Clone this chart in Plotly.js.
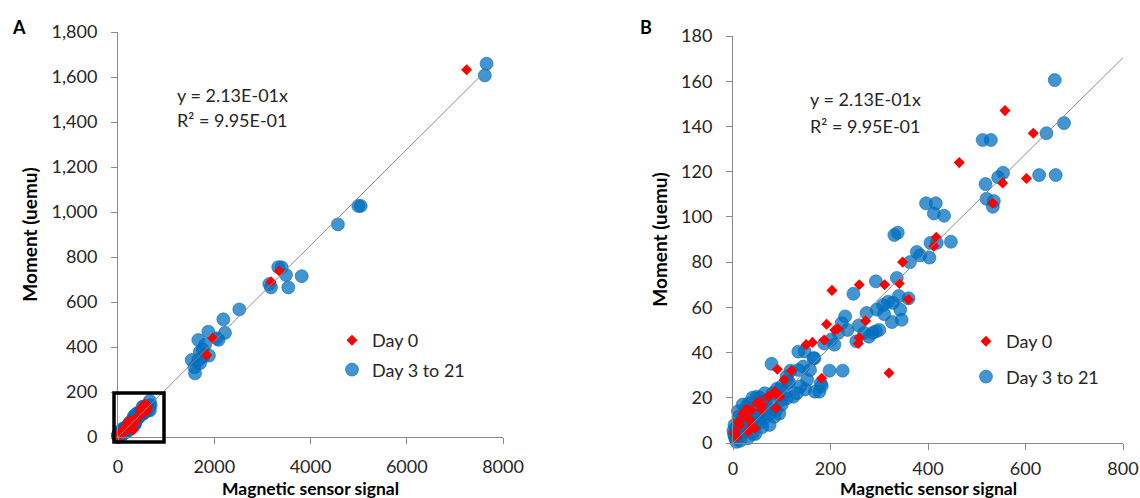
<!DOCTYPE html>
<html>
<head>
<meta charset="utf-8">
<script src="https://cdn.plot.ly/plotly-3.0.1.min.js"></script>
<style>
html,body{margin:0;padding:0;background:#fff;}
#chart{width:1140px;height:498px;}
</style>
</head>
<body>
<div id="chart"></div>
<script>
// ---------- data ----------
const seriesNames = ['Day 0', 'Day 3 to 21'];

const day0X = [
  7244, 3352, 3179, 1968, 1843, 558, 616, 464, 602, 553,
  533, 417, 412, 348, 311, 341, 259, 203, 360, 272,
  192, 209, 215, 257, 259, 187, 163, 150, 320, 182,
  91, 120, 105, 86, 96, 88, 55, 38, 23, 14,
  35, 45, 4, 11, 25, 49, 59, 72, 83, 2,
  8, 31, 38, 20, 28, 60
];
const day0Y = [
  1632, 738, 690, 439, 364, 147, 137, 124, 117, 115,
  106, 91, 87, 80, 70, 70.5, 70, 67.5, 63.5, 54,
  52.5, 50, 50.5, 44, 46.5, 45.5, 44.5, 43.5, 31, 28.6,
  32.6, 32, 28, 22.7, 20.5, 15.4, 18.3, 14.6, 12.4, 8,
  10.2, 6.5, 5, 9.4, 11.6, 17.6, 14.6, 20.5, 22, 4.3,
  2.8, 5, 7.2, 13, 15, 17
];

const laterX = [
  7659, 7622, 5044, 4993, 4570, 3401, 3491, 3817, 3539, 3144,
  3179, 3330, 2521, 2189, 2223, 2051, 2090, 1877, 1669, 1760,
  1700, 1890, 1810, 1531, 1669, 1600, 1590, 1704, 1773,
  660, 679, 643, 512, 529, 628, 662, 554, 544, 518,
  520, 535, 533, 396, 416, 412, 433, 331, 338, 447,
  405, 418, 377, 384, 403, 363, 336, 293, 247, 360,
  318, 328, 308, 295, 343, 274, 346, 326, 230, 223,
  269, 286, 293, 253, 279, 216, 187, 208, 201, 147,
  167, 134, 118, 79, 110, 148, 177, 198, 225, 180,
  124, 152, 138, 113, 95, 81, 99, 85, 67, 53,
  60, 46, 32, 25, 11, 7, 4, 7, 18, 39,
  60, 81, 49, 67, 88, 95, 110, 131, 134, 165,
  144, 158, 168, 182, 5, 12, 15, 22, 30, 35,
  28, 45, 50, 55, 65, 70, 75, 2, 10, 20,
  40, 55, 65, 90, 100, 105, 115, 100, 75, 40,
  30, 15, 3, 20, 1, 235, 258, 300, 310, 340
];
const laterY = [
  1659, 1607, 1027, 1027, 945, 754, 720, 715, 665, 680,
  665, 755, 567, 523, 463, 439, 432, 468, 431, 390,
  378, 362, 410, 342, 342, 283, 310, 328, 357,
  160.5, 141.5, 137, 134, 134, 118.5, 118.5, 119.5, 117.5, 114.5,
  108, 107, 104.5, 106, 106, 101.5, 100.5, 92, 93, 89,
  88.5, 88.5, 84.5, 83, 82, 80, 73, 71.5, 66, 64,
  62.5, 62, 61, 59, 59, 57.5, 54.5, 53.5, 56, 53,
  48.7, 48.7, 49.4, 45, 47, 48.7, 44, 43.5, 45.7, 40.5,
  37.5, 32.3, 32, 35, 29.4, 23.7, 22.7, 32, 32, 26.4,
  20.5, 28, 25, 26.4, 23.4, 22, 19, 11.6, 14.5, 10,
  7, 4, 17.5, 14.5, 11.6, 7, 2.7, 0.5, 4, 10,
  14.5, 16.8, 20.5, 19, 14.5, 13, 19.7, 22, 40.4, 37.5,
  33.8, 32.3, 22.7, 25.2, 2, 4, 7, 8, 9, 13,
  16, 14, 12, 9, 11, 16, 13, 4, 14, 17,
  20, 20, 22, 24, 25, 22, 27, 17, 8, 4,
  2, 1, 8, 11, 5.5, 50, 52, 50, 57, 65
];

const trendSlope = 0.213;
const equationText = 'y = 2.13E-01x';
const r2Text = 'R\u00b2 = 9.95E-01';
const panelLabels = ['A', 'B'];
const axisTitleX = 'Magnetic sensor signal';
const axisTitleY = 'Moment (uemu)';
const rangeA = { x: [0, 8000], y: [0, 1800] };
const rangeB = { x: [0, 800], y: [0, 180] };
const dtickA = { x: 2000, y: 200 };
const dtickB = { x: 200, y: 20 };

// ---------- style ----------
const FONT = 'Lato, "Open Sans", sans-serif';
const BLUE = 'rgba(0,112,192,0.74)';
const RED = '#ff0000';
const AXIS_GRAY = '#8a8a8a';
const W = 1140, H = 498;
const px = v => v / W;
const py = v => 1 - v / H;

function filt(xs, ys, r) {
  const ox = [], oy = [];
  xs.forEach((x, i) => {
    if (x <= r.x[1] && ys[i] <= r.y[1]) { ox.push(x); oy.push(ys[i]); }
  });
  return [ox, oy];
}

const maxX = Math.max(...laterX, ...day0X);
const lineAX = [0, maxX];
const lineBX = [rangeB.x[0], rangeB.x[1]];

const [bLaterX, bLaterY] = filt(laterX, laterY, rangeB);
const [bDay0X, bDay0Y] = filt(day0X, day0Y, rangeB);

function blueTrace(x, y, xa, ya, leg) {
  return {
    type: 'scatter', mode: 'markers', x, y, xaxis: xa, yaxis: ya,
    name: seriesNames[1], legend: leg, legendgroup: leg + 'b', legendrank: 2,
    cliponaxis: false, hoverinfo: 'x+y',
    marker: { symbol: 'circle', size: 13, color: BLUE, line: { width: 0.6, color: 'rgba(0,100,180,0.9)' } }
  };
}
function redTrace(x, y, xa, ya, leg) {
  return {
    type: 'scatter', mode: 'markers', x, y, xaxis: xa, yaxis: ya,
    name: seriesNames[0], legend: leg, legendgroup: leg + 'r', legendrank: 1,
    cliponaxis: false, hoverinfo: 'x+y',
    marker: { symbol: 'diamond', size: 8.5, color: RED, line: { width: 0 } }
  };
}
function lineTrace(xs, xa, ya) {
  return {
    type: 'scatter', mode: 'lines', x: xs, y: xs.map(v => v * trendSlope),
    xaxis: xa, yaxis: ya, showlegend: false, hoverinfo: 'skip',
    line: { color: '#8c8c8c', width: 1 }
  };
}

const traces = [
  blueTrace(laterX, laterY, 'x', 'y', 'legend'),
  redTrace(day0X, day0Y, 'x', 'y', 'legend'),
  lineTrace(lineAX, 'x', 'y'),
  blueTrace(bLaterX, bLaterY, 'x2', 'y2', 'legend2'),
  redTrace(bDay0X, bDay0Y, 'x2', 'y2', 'legend2'),
  lineTrace(lineBX, 'x2', 'y2')
];

function axisBase(extra) {
  return Object.assign({
    showline: true, linecolor: AXIS_GRAY, linewidth: 1,
    ticks: 'outside', ticklen: 6, tickcolor: AXIS_GRAY, tickwidth: 1,
    showgrid: false, zeroline: false, automargin: false,
    tickfont: { family: FONT, size: 18, color: '#262626' }
  }, extra);
}
const titleFont = { family: FONT, size: 19, color: '#000', weight: 'bold' };
const xTitleFont = { family: FONT, size: 17.5, color: '#000', weight: 'bold' };

const domA = { x: [px(118), px(503)], y: [py(437), py(32)] };
const domB = { x: [px(733), px(1123)], y: [py(443), py(36)] };

const layout = {
  width: W, height: H,
  margin: { l: 0, r: 0, t: 0, b: 0 },
  paper_bgcolor: '#fff', plot_bgcolor: 'rgba(0,0,0,0)',
  font: { family: FONT, size: 18, color: '#262626' },
  xaxis: axisBase({
    domain: domA.x, range: rangeA.x, dtick: dtickA.x, tickformat: 'd',
    anchor: 'y', ticklabelstandoff: 7
  }),
  yaxis: axisBase({
    domain: domA.y, range: rangeA.y, dtick: dtickA.y, tickformat: ',d',
    anchor: 'x', ticklabelstandoff: 10,
    title: { text: axisTitleY, font: titleFont, standoff: 8 }
  }),
  xaxis2: axisBase({
    domain: domB.x, range: rangeB.x, dtick: dtickB.x, tickformat: 'd',
    anchor: 'y2', ticklabelstandoff: 3
  }),
  yaxis2: axisBase({
    domain: domB.y, range: rangeB.y, dtick: dtickB.y, tickformat: 'd',
    anchor: 'x2', ticklabelstandoff: 10,
    title: { text: axisTitleY, font: titleFont, standoff: 8 }
  }),
  legend: {
    x: px(332), y: py(322), xanchor: 'left', yanchor: 'top',
    bgcolor: 'rgba(0,0,0,0)', font: { family: FONT, size: 18, color: '#262626' },
    tracegroupgap: 3, traceorder: 'grouped'
  },
  legend2: {
    x: px(966), y: py(323), xanchor: 'left', yanchor: 'top',
    bgcolor: 'rgba(0,0,0,0)', font: { family: FONT, size: 18, color: '#262626' },
    tracegroupgap: 9, traceorder: 'grouped'
  },
  shapes: [{
    type: 'rect', xref: 'paper', yref: 'paper', xsizemode: 'pixel', ysizemode: 'pixel',
    xanchor: domA.x[0], yanchor: domA.y[0], x0: -4, x1: 46, y0: -5, y1: 44,
    line: { color: '#000', width: 3.5 }, fillcolor: 'rgba(0,0,0,0)', layer: 'above'
  }],
  annotations: [
    { text: panelLabels[0], x: px(19), y: py(27), xref: 'paper', yref: 'paper', showarrow: false,
      xanchor: 'center', yanchor: 'middle', font: { family: FONT, size: 18, color: '#000', weight: 'bold' } },
    { text: panelLabels[1], x: px(646), y: py(27), xref: 'paper', yref: 'paper', showarrow: false,
      xanchor: 'center', yanchor: 'middle', font: { family: FONT, size: 18, color: '#000', weight: 'bold' } },
    { text: equationText, x: px(175), y: py(95), xref: 'paper', yref: 'paper', showarrow: false,
      xanchor: 'left', yanchor: 'middle', font: { family: FONT, size: 18, color: '#262626' } },
    { text: r2Text, x: px(175), y: py(120), xref: 'paper', yref: 'paper', showarrow: false,
      xanchor: 'left', yanchor: 'middle', font: { family: FONT, size: 18, color: '#262626' } },
    { text: equationText, x: px(808), y: py(99), xref: 'paper', yref: 'paper', showarrow: false,
      xanchor: 'left', yanchor: 'middle', font: { family: FONT, size: 18, color: '#262626' } },
    { text: r2Text, x: px(808), y: py(126), xref: 'paper', yref: 'paper', showarrow: false,
      xanchor: 'left', yanchor: 'middle', font: { family: FONT, size: 18, color: '#262626' } },
    { text: axisTitleX, x: (domA.x[0] + domA.x[1]) / 2, y: py(488), xref: 'paper', yref: 'paper',
      showarrow: false, xanchor: 'center', yanchor: 'middle', font: xTitleFont },
    { text: axisTitleX, x: (domB.x[0] + domB.x[1]) / 2, y: py(488), xref: 'paper', yref: 'paper',
      showarrow: false, xanchor: 'center', yanchor: 'middle', font: xTitleFont }
  ],
  showlegend: true
};

Plotly.newPlot('chart', traces, layout, { staticPlot: true, displayModeBar: false });
</script>
</body>
</html>
